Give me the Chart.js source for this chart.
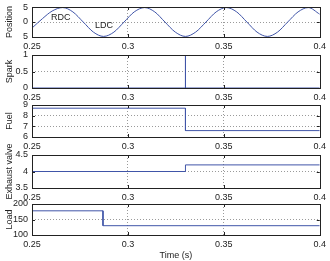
<!DOCTYPE html>
<html><head><meta charset="utf-8">
<script src="https://cdn.jsdelivr.net/npm/chart.js@4.4.1/dist/chart.umd.min.js"></script>
<style>
html,body{margin:0;padding:0;background:#fff;width:330px;height:261px;overflow:hidden;position:relative}
.p{position:absolute;left:0;width:330px}
canvas{display:block}
</style></head><body>
<div class="p" id="w0"><canvas id="c0"></canvas></div>
<div class="p" id="w1"><canvas id="c1"></canvas></div>
<div class="p" id="w2"><canvas id="c2"></canvas></div>
<div class="p" id="w3"><canvas id="c3"></canvas></div>
<div class="p" id="w4"><canvas id="c4"></canvas></div>
<script>
// ---- data ----
const xTicks = [0.25, 0.3, 0.35, 0.4];
const posTime  = [0.250,0.2555,0.2605,0.266,0.2713,0.2767,0.282,0.2873,0.2927,0.298,0.3033,0.3087,0.314,0.3193,0.3247,0.330,0.3353,0.3407,0.346,0.3513,0.3567,0.362,0.3673,0.3727,0.378,0.3833,0.3887,0.394,0.400];
const posValue = [-2.1,1.2,3.8,5.0,3.5,0.0,-3.5,-5.0,-3.5,0.0,3.5,5.0,3.5,0.0,-3.5,-5.0,-3.5,0.0,3.5,5.0,3.5,0.0,-3.5,-5.0,-3.5,0.0,3.5,5.0,2.7];
const sparkTime  = [0.25,0.33,0.33,0.33,0.4];
const sparkValue = [0,0,1,0,0];
const fuelTime  = [0.25,0.33,0.33,0.4];
const fuelValue = [8.7,8.7,6.6,6.6];
const exhaustTime  = [0.25,0.33,0.33,0.4];
const exhaustValue = [4,4,4.2,4.2];
const loadTime  = [0.25,0.287,0.287,0.4];
const loadValue = [178,178,130,130];
const posTicks = [-5,0,5];
const sparkTicks = [0,0.5,1];
const fuelTicks = [6,7,8,9];
const exhaustTicks = [3.5,4,4.5];
const loadTicks = [100,150,200];
const yTitles = ['Position','Spark','Fuel','Exhaust valve','Load'];
const xTitle = 'Time (s)';
const noteText = ['RDC','LDC'];
const noteTime = [0.265,0.2875];
const noteValue = [1.6,-1.3];

// ---- layout ----
Chart.defaults.font.family = "'Liberation Sans', Arial, sans-serif";
Chart.defaults.font.size = 9;
Chart.defaults.color = '#222';
const LINE = '#4055a8';
const boxTop = [7,55,105,155,204];
const boxBot = [37,88,137,188,235];
const PADT = 25, PADB = 15;

const frame = {
  id:'frame',
  afterDraw(chart){
    const {ctx, chartArea:a, scales} = chart;
    ctx.save();
    ctx.strokeStyle = '#222'; ctx.lineWidth = 1;
    // inward tick marks
    ctx.beginPath();
    scales.x.ticks.forEach(t=>{
      const px = Math.round(scales.x.getPixelForValue(t.value))+0.5;
      if (px < a.left+2 || px > a.right-2) return;
      ctx.moveTo(px, a.bottom); ctx.lineTo(px, a.bottom-3);
      ctx.moveTo(px, a.top); ctx.lineTo(px, a.top+3);
    });
    scales.y.ticks.forEach(t=>{
      const py = Math.round(scales.y.getPixelForValue(t.value))+0.5;
      if (py < a.top+2 || py > a.bottom-2) return;
      ctx.moveTo(a.left, py); ctx.lineTo(a.left+3, py);
      ctx.moveTo(a.right, py); ctx.lineTo(a.right-3, py);
    });
    ctx.stroke();
    ctx.strokeRect(Math.round(a.left)+0.5, Math.round(a.top)+0.5, Math.round(a.right-a.left), Math.round(a.bottom-a.top));
    ctx.restore();
  }
};
const notes = {
  id:'notes',
  afterDatasetsDraw(chart){
    if (chart.canvas.id !== 'c0') return;
    const {ctx, scales} = chart;
    ctx.save();
    ctx.font = "9px 'Liberation Sans', Arial, sans-serif";
    ctx.fillStyle = '#222'; ctx.textAlign='center'; ctx.textBaseline='middle';
    noteText.forEach((s,i)=>ctx.fillText(s, scales.x.getPixelForValue(noteTime[i]), scales.y.getPixelForValue(noteValue[i])));
    ctx.restore();
  }
};

function panel(i, time, values, yTicks, ymin, ymax, yFmt){
  const last = i === 4;
  const xH = last ? 26 : 15;
  const boxH = boxBot[i]-boxTop[i];
  const h = PADT + boxH + xH + PADB;
  const w = document.getElementById('w'+i);
  w.style.top = (boxTop[i]-PADT)+'px';
  w.style.height = h+'px';
  const cv = document.getElementById('c'+i);
  cv.width = 330; cv.height = h;
  cv.style.width='330px'; cv.style.height=h+'px';
  const ends = [ymin, ymax];
  new Chart(cv, {
    type:'line',
    data:{datasets:[{data: time.map((t,k)=>({x:t,y:values[k]})), borderColor:LINE, borderWidth:1, pointRadius:0, fill:false,
      cubicInterpolationMode: i===0 ? 'monotone' : 'default', tension:0}]},
    options:{
      responsive:false, animation:false, events:[],
      layout:{padding:{left:0,right:8,top:PADT,bottom:PADB}},
      plugins:{legend:{display:false}, tooltip:{enabled:false}},
      scales:{
        x:{type:'linear', min:0.25, max:0.4,
          afterBuildTicks: s=>{ s.ticks = xTicks.map(v=>({value:v})); },
          afterFit: s=>{ s.height = xH; },
          ticks:{padding:4, maxRotation:0, autoSkip:false, callback:v=>String(v)},
          grid:{drawTicks:false, color: c => (c.tick && (c.tick.value===0.25||c.tick.value===0.4)) ? 'rgba(0,0,0,0)' : '#9a9a9a'},
          border:{display:false, dash:[1,2]},
          title: last ? {display:true, text:xTitle, padding:{top:0,bottom:0}, font:{size:9}} : {display:false}
        },
        y:{type:'linear', min:ymin, max:ymax,
          afterBuildTicks: s=>{ s.ticks = yTicks.map(v=>({value:v})); },
          afterFit: s=>{ s.width = 32; },
          ticks:{padding:4, autoSkip:false, callback: yFmt || (v=>String(v))},
          grid:{drawTicks:false, color: c => (c.tick && (c.tick.value===ymin||c.tick.value===ymax||Math.abs(c.tick.value)===5&&i===0)) ? 'rgba(0,0,0,0)' : '#9a9a9a'},
          border:{display:false, dash:[1,2]},
          title:{display:true, text:yTitles[i], padding:{top:4,bottom:0}, font:{size:9}}
        }
      }
    },
    plugins:[frame, notes]
  });
}
panel(0, posTime, posValue, posTicks, -5.2, 5.2, v=>String(Math.abs(v)));
panel(1, sparkTime, sparkValue, sparkTicks, 0, 1);
panel(2, fuelTime, fuelValue, fuelTicks, 6, 9);
panel(3, exhaustTime, exhaustValue, exhaustTicks, 3.5, 4.5);
panel(4, loadTime, loadValue, loadTicks, 100, 200);
</script>
</body></html>
